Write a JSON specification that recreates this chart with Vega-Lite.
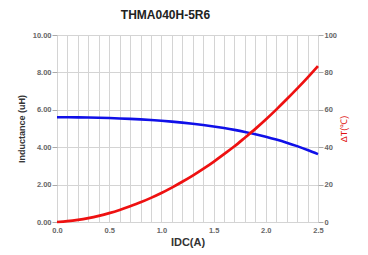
{
  "$schema": "https://vega.github.io/schema/vega-lite/v6.json",
  "autosize": {"type": "none"},
  "width": 261,
  "height": 187,
  "padding": {"left": 57, "top": 35, "right": 50, "bottom": 33},
  "background": "white",
  "config": {
    "font": "Liberation Sans",
    "view": {"stroke": null},
    "axis": {"labelFont": "Liberation Sans", "titleFont": "Liberation Sans"}
  },
  "title": {
    "text": "THMA040H-5R6",
    "fontSize": 12,
    "fontWeight": "bold",
    "color": "#222222",
    "anchor": "middle",
    "dx": -22,
    "offset": 9
  },
  "data": {
    "values": [
      {"IDC": 0.0, "L": 5.600, "T": 0.0},
      {"IDC": 0.1, "L": 5.598, "T": 0.45},
      {"IDC": 0.2, "L": 5.594, "T": 1.15},
      {"IDC": 0.3, "L": 5.585, "T": 2.1},
      {"IDC": 0.4, "L": 5.573, "T": 3.3},
      {"IDC": 0.5, "L": 5.558, "T": 4.75},
      {"IDC": 0.6, "L": 5.538, "T": 6.45},
      {"IDC": 0.7, "L": 5.515, "T": 8.4},
      {"IDC": 0.8, "L": 5.486, "T": 10.5},
      {"IDC": 0.9, "L": 5.453, "T": 12.9},
      {"IDC": 1.0, "L": 5.413, "T": 15.5},
      {"IDC": 1.1, "L": 5.368, "T": 18.4},
      {"IDC": 1.2, "L": 5.316, "T": 21.5},
      {"IDC": 1.3, "L": 5.256, "T": 24.8},
      {"IDC": 1.4, "L": 5.188, "T": 28.4},
      {"IDC": 1.5, "L": 5.111, "T": 32.2},
      {"IDC": 1.6, "L": 5.024, "T": 36.3},
      {"IDC": 1.7, "L": 4.927, "T": 40.5},
      {"IDC": 1.8, "L": 4.818, "T": 45.1},
      {"IDC": 1.9, "L": 4.696, "T": 49.8},
      {"IDC": 2.0, "L": 4.560, "T": 54.8},
      {"IDC": 2.1, "L": 4.409, "T": 60.1},
      {"IDC": 2.2, "L": 4.242, "T": 65.6},
      {"IDC": 2.3, "L": 4.057, "T": 71.3},
      {"IDC": 2.4, "L": 3.854, "T": 77.2},
      {"IDC": 2.5, "L": 3.630, "T": 83.4}
    ]
  },
  "encoding": {
    "x": {
      "field": "IDC",
      "type": "quantitative",
      "scale": {"domain": [0, 2.5], "nice": false},
      "axis": {
        "values": [0, 0.1, 0.2, 0.3, 0.4, 0.5, 0.6, 0.7, 0.8, 0.9, 1.0, 1.1, 1.2, 1.3, 1.4, 1.5, 1.6, 1.7, 1.8, 1.9, 2.0, 2.1, 2.2, 2.3, 2.4, 2.5],
        "labelExpr": "(round(datum.value*10) % 5 == 0) ? format(datum.value, '.1f') : ''",
        "title": "IDC(A)",
        "titleFontSize": 11,
        "titleFontWeight": "bold",
        "titleColor": "#333333",
        "titlePadding": 3,
        "labelFontSize": 7.5,
        "labelFontWeight": "bold",
        "labelColor": "#666666",
        "labelPadding": 4,
        "ticks": false,
        "domain": false,
        "grid": true,
        "gridColor": "#d4d4d4",
        "gridWidth": 1,
        "labelFlush": false
      }
    }
  },
  "layer": [
    {
      "mark": {"type": "line", "color": "#1010e8", "strokeWidth": 2.6, "interpolate": "monotone"},
      "encoding": {
        "y": {
          "field": "L",
          "type": "quantitative",
          "scale": {"domain": [0, 10], "nice": false},
          "axis": {
            "orient": "left",
            "values": [0, 2, 4, 6, 8, 10],
            "format": ".2f",
            "title": "Inductance (uH)",
            "titleFontSize": 9,
            "titleFontWeight": "bold",
            "titleColor": "#333333",
            "titlePadding": 6,
            "labelFontSize": 7.5,
            "labelFontWeight": "bold",
            "labelColor": "#666666",
            "labelPadding": 1,
            "tickSize": 5,
            "tickColor": "#aaaaaa",
            "domain": false,
            "grid": true,
            "gridColor": "#d4d4d4",
            "labelFlush": false
          }
        }
      }
    },
    {
      "mark": {"type": "line", "color": "#ee1111", "strokeWidth": 2.7, "interpolate": "monotone"},
      "encoding": {
        "y": {
          "field": "T",
          "type": "quantitative",
          "scale": {"domain": [0, 100], "nice": false},
          "axis": {
            "orient": "right",
            "values": [0, 20, 40, 60, 80, 100],
            "format": "d",
            "title": "ΔT(℃)",
            "titleAngle": 270,
            "titleFontSize": 9,
            "titleFontWeight": "normal",
            "titleColor": "#e01010",
            "titlePadding": 12,
            "labelFontSize": 7.5,
            "labelFontWeight": "bold",
            "labelColor": "#666666",
            "labelPadding": 1,
            "tickSize": 5,
            "tickColor": "#aaaaaa",
            "domain": false,
            "grid": false,
            "labelFlush": false
          }
        }
      }
    }
  ],
  "resolve": {"scale": {"y": "independent"}}
}
